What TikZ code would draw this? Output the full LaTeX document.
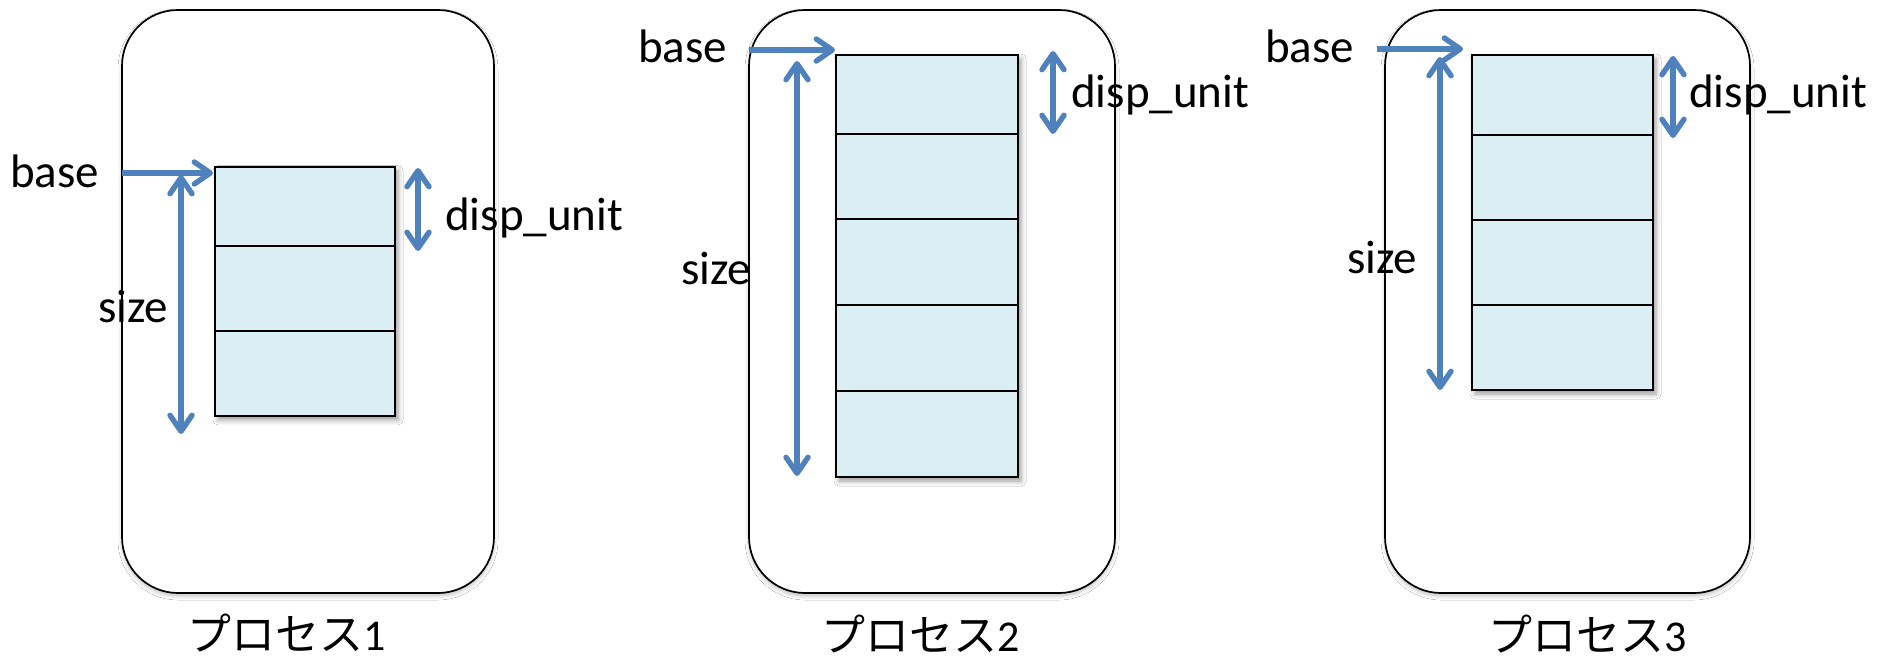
\documentclass[tikz,border=0pt]{standalone}
\usepackage{fontspec}
\setmainfont{Carlito}
\newfontfamily\jpfont{Noto Sans CJK JP}
\usetikzlibrary{arrows.meta,shadows.blur}
\definecolor{ptrblue}{HTML}{4F81BD}
\definecolor{cellfill}{HTML}{DBEEF4}

\begin{document}
\begin{tikzpicture}[x=1pt,y=-1pt,
  frame/.style={draw=black, line width=1.7pt, fill=white, rounded corners=56pt,
    inner sep=0pt, outer sep=0pt,
    blur shadow={shadow xshift=0pt, shadow yshift=-3pt, shadow blur radius=4pt, shadow opacity=25}},
  block/.style={draw=black, line width=2.2pt, fill=cellfill, inner sep=0pt, outer sep=0pt,
    blur shadow={shadow xshift=3pt, shadow yshift=-4pt, shadow blur radius=5pt, shadow opacity=40}},
  divider/.style={draw=black, line width=2pt},
  ptr/.style={draw=ptrblue, line width=5.4pt,
    -{Straight Barb[length=16pt, width=22pt, round]}},
  dptr/.style={draw=ptrblue, line width=5.4pt,
    {Straight Barb[length=16pt, width=22pt, round]}-{Straight Barb[length=16pt, width=22pt, round]}},
  lbl/.style={inner sep=0pt, anchor=base west, font=\fontsize{47}{56}\selectfont},
  title/.style={inner sep=0pt, anchor=base, font=\fontsize{44}{52}\selectfont}
]
\useasboundingbox (0,0) rectangle (1880,660);
\fill[white] (0,0) rectangle (1880,660);

% ---------- process 1 ----------
\node[frame, minimum width=372pt, minimum height=583pt] (f1) at (308,301.5) {};
\node[block, minimum width=180pt, minimum height=249.3pt] (b1) at (305,291.3) {};
\draw[divider] (b1.west |- 0,246) -- (b1.east |- 0,246);
\draw[divider] (b1.west |- 0,331) -- (b1.east |- 0,331);
\node[lbl] (base1) at (10,188) {base};
\node[lbl] (size1) at (98,323) {size};
\node[lbl] (unit1) at (445,231) {disp\_unit};
\coordinate (bt1) at (122,173);
\coordinate (bh1) at (213,173);
\coordinate (st1) at (181,175);
\coordinate (sb1) at (181,434);
\coordinate (ut1) at (418,168);
\coordinate (ub1) at (418,251);
\draw[ptr] (bt1) -- (bh1);
\draw[dptr] (st1) -- (sb1);
\draw[dptr] (ut1) -- (ub1);
\node[title] (t1) at (286.5,650) {\jpfont プロセス\rmfamily 1};

% ---------- process 2 ----------
\node[frame, minimum width=366pt, minimum height=583pt] (f2) at (932,301.5) {};
\node[block, minimum width=182pt, minimum height=422pt] (b2) at (927,266) {};
\foreach \yy in {134,219,305,391}
  \draw[divider] (b2.west |- 0,\yy) -- (b2.east |- 0,\yy);
\node[lbl] (base2) at (638,63) {base};
\node[lbl] (size2) at (681,285) {size};
\node[lbl] (unit2) at (1071,108) {disp\_unit};
\coordinate (bt2) at (749,50);
\coordinate (bh2) at (835,50);
\coordinate (st2) at (797,61);
\coordinate (sb2) at (797,476);
\coordinate (ut2) at (1053,51);
\coordinate (ub2) at (1053,134);
\draw[ptr] (bt2) -- (bh2);
\draw[dptr] (st2) -- (sb2);
\draw[dptr] (ut2) -- (ub2);
\node[title] (t2) at (920.5,651) {\jpfont プロセス\rmfamily 2};

% ---------- process 3 ----------
\node[frame, minimum width=365pt, minimum height=583pt] (f3) at (1567.5,301.5) {};
\node[block, minimum width=181pt, minimum height=335pt] (b3) at (1562.5,222.5) {};
\foreach \yy in {135,220,305}
  \draw[divider] (b3.west |- 0,\yy) -- (b3.east |- 0,\yy);
\node[lbl] (base3) at (1265,63) {base};
\node[lbl] (size3) at (1347,274) {size};
\node[lbl] (unit3) at (1689,108) {disp\_unit};
\coordinate (bt3) at (1377,49);
\coordinate (bh3) at (1463,49);
\coordinate (st3) at (1440,57);
\coordinate (sb3) at (1440,390);
\coordinate (ut3) at (1673,56);
\coordinate (ub3) at (1673,138);
\draw[ptr] (bt3) -- (bh3);
\draw[dptr] (st3) -- (sb3);
\draw[dptr] (ut3) -- (ub3);
\node[title] (t3) at (1587.5,651) {\jpfont プロセス\rmfamily 3};
\end{tikzpicture}
\end{document}
